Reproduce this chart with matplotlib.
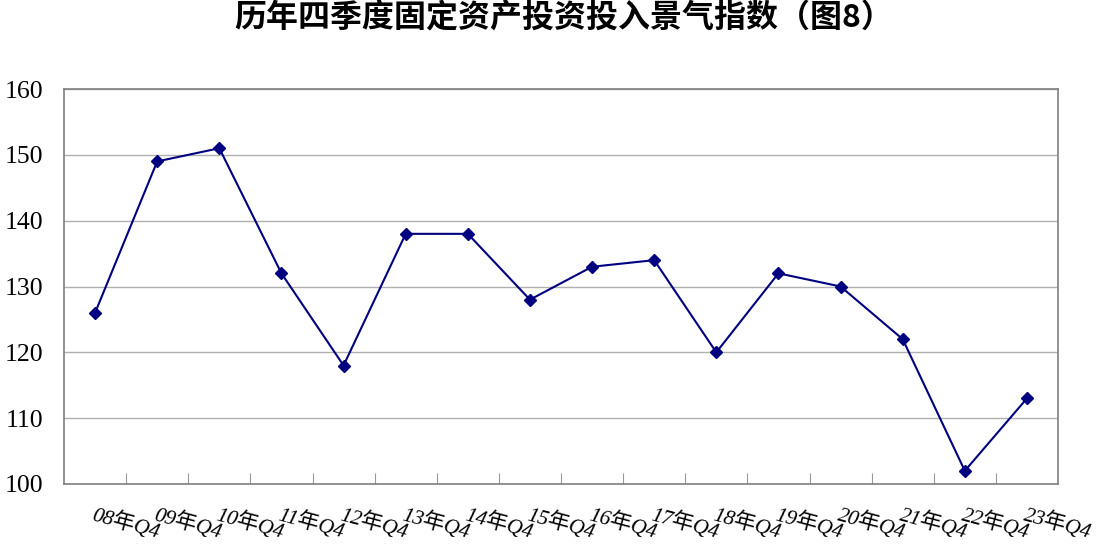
import numpy as np
import matplotlib
matplotlib.use("Agg")
import matplotlib.pyplot as plt

# data
labels = ["08年Q4", "09年Q4", "10年Q4", "11年Q4", "12年Q4", "13年Q4", "14年Q4", "15年Q4",
          "16年Q4", "17年Q4", "18年Q4", "19年Q4", "20年Q4", "21年Q4", "22年Q4", "23年Q4"]
values = [126, 149, 151, 132, 118, 138, 138, 128, 133, 134, 120, 132, 130, 122, 102, 113]

serif = ["Liberation Serif", "Noto Sans CJK SC"]

fig = plt.figure(figsize=(11.05, 5.51), dpi=100)
ax = fig.add_axes([64 / 1105, 1 - 484 / 551, 994 / 1105, 395 / 551])

x = np.arange(len(values))
ax.plot(x, values, color="#000080", linewidth=1.5, marker="D", markersize=6.5)

ax.set_xlim(-0.5, len(values) - 0.5)
ax.set_ylim(100, 160)
ax.set_yticks(np.arange(100, 161, 10))
ax.yaxis.grid(True, color="#b0b0b0", linewidth=1)
ax.set_axisbelow(True)

# ticks on category boundaries, labels hanging off the centres
ax.set_xticks(np.arange(0.5, len(values) - 0.5, 1))
ax.set_xticklabels([])
ax.tick_params(axis="x", direction="in", length=8, color="#999999")
ax.tick_params(axis="y", length=0, pad=15)
for lab in ax.get_yticklabels():
    lab.set_family(serif)
    lab.set_fontsize(18.5)

for i, lab in enumerate(labels):
    ax.text(i, 96.9, lab, rotation=-15, rotation_mode="anchor", ha="left", va="top",
            fontsize=15.5, style="italic", family=serif)

for s in ax.spines.values():
    s.set_color("#808080")
    s.set_linewidth(1.2)

fig.suptitle("历年四季度固定资产投资投入景气指数（图8）", x=0.51, y=0.995,
             fontsize=23, fontweight="bold", family=["Noto Sans CJK SC", "DejaVu Sans"])

fig.savefig("out.png", dpi=100)
